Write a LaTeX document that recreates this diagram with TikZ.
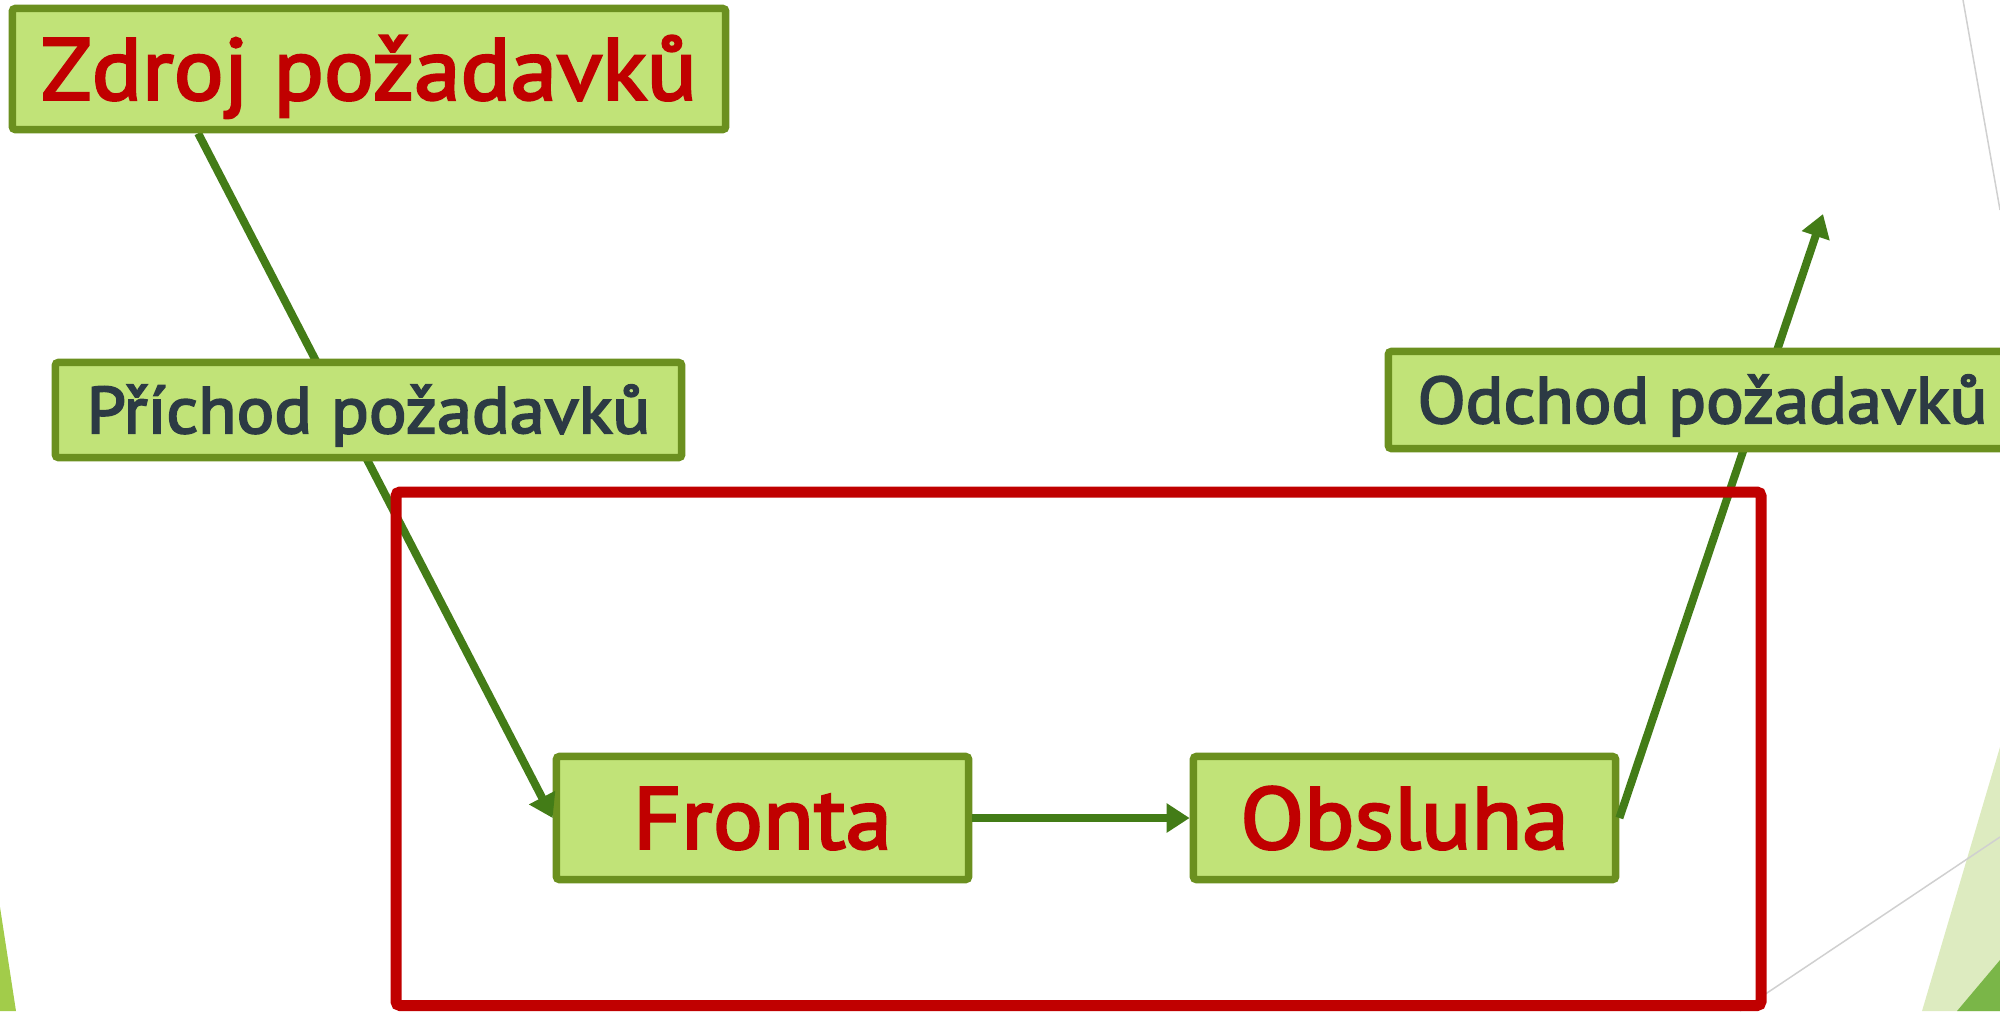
\documentclass[tikz,border=0pt]{standalone}
\usepackage{fontspec}
\newfontfamily\diagfont{PT Sans}[FakeBold=3,FakeStretch=1.07]
\usetikzlibrary{arrows.meta,calc}
\definecolor{boxfill}{HTML}{C1E378}
\definecolor{boxline}{HTML}{6B901F}
\definecolor{connc}{HTML}{437C17}
\definecolor{framec}{HTML}{C00000}
\definecolor{darktext}{HTML}{2C3A44}
\definecolor{decolight}{HTML}{DDEBC0}
\definecolor{decodark}{HTML}{7AB648}
\definecolor{decoleft}{HTML}{A2CC4A}
\definecolor{thingray}{HTML}{D0D0D0}
\begin{document}
\begin{tikzpicture}[x=0.01cm,y=-0.01cm,
  box/.style={draw=boxline, fill=boxfill, line width=0.075cm, rounded corners=0.03cm, inner sep=0pt},
  bigbox/.style={box, font=\diagfont\fontsize{24.8}{28}\selectfont, text=framec, text height=17.4pt, text depth=0pt},
  smallbox/.style={box, font=\diagfont\fontsize{18.7}{22}\selectfont, text=darktext, text height=13.1pt, text depth=0pt},
  connector/.style={draw=connc, line width=0.08cm, -{Triangle[length=0.23cm,width=0.28cm]}},
  frameline/.style={draw=framec, line width=0.11cm, rounded corners=0.04cm},
  decoline/.style={draw=thingray, line width=0.015cm}]
\path[use as bounding box] (0,0) rectangle (2000,1011);
\clip (0,0) rectangle (2000,1011);
% background decorations
\fill[decolight] (1922,1011) -- (2000,747) -- (2000,1011) -- cycle;
\fill[decodark] (1957,1011) -- (2000,960) -- (2000,1011) -- cycle;
\fill[decoleft] (0,907) -- (16,1011) -- (0,1011) -- cycle;
\draw[decoline] (1963,0) -- (2000,210);
\draw[decoline] (1740,1011) -- (2000,837);
% node positions
\path (369,69) node[bigbox, minimum width=7.13cm, minimum height=1.21cm, draw=none, fill=none, text opacity=0] (zdroj) {Zdroj požadavků};
\path (762.5,818) node[bigbox, minimum width=4.12cm, minimum height=1.23cm] (fronta) {Fronta};
\path (1404.5,818) node[bigbox, minimum width=4.22cm, minimum height=1.23cm] (obsluha) {Obsluha};
\coordinate (out) at (1823,214);
% connectors
\draw[connector] ($(zdroj.south west)!0.263!(zdroj.south east)$) -- (fronta.west);
\draw[connector] (fronta.east) -- (obsluha.west);
\draw[connector] (obsluha.east) -- (out);
% boxes drawn over the connectors
\node[bigbox, minimum width=7.13cm, minimum height=1.21cm] at (zdroj) {Zdroj požadavků};
\node[smallbox, minimum width=6.26cm, minimum height=0.95cm] (prichod) at (368.5,410) {Příchod požadavků};
\node[smallbox, minimum width=6.28cm, minimum height=0.97cm] (odchod) at (1702.5,400) {Odchod požadavků};
% frame
\draw[frameline] (396,492) rectangle (1761,1005.5);
\end{tikzpicture}
\end{document}
